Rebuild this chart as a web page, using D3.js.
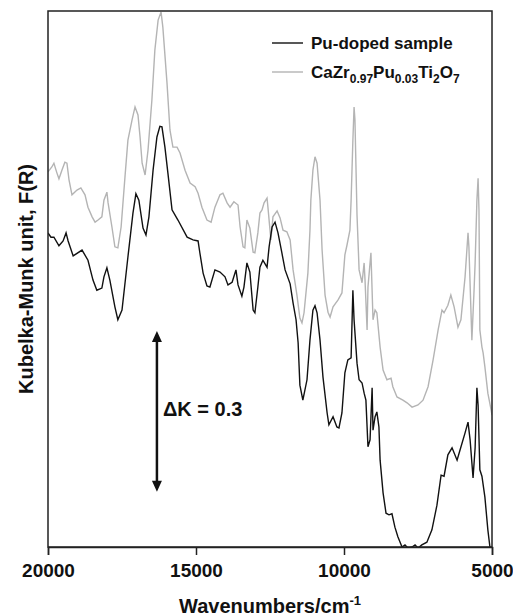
<!DOCTYPE html>
<html>
<head>
<meta charset="utf-8">
<script src="https://cdn.jsdelivr.net/npm/d3@7/dist/d3.min.js"></script>
<style>
  body { margin: 0; background: #fff; }
  text { font-family: "Liberation Sans", Arial, sans-serif; font-weight: bold; fill: #111; }
</style>
</head>
<body>
<script>
let width = 513;
let height = 616;
let margin = { top: 11, right: 21, bottom: 69, left: 48 };

// wavenumber (cm-1), Kubelka-Munk value (arbitrary offset)
const puDoped = [
  [20000,0.586],[19900,0.578],[19800,0.578],[19630,0.562],[19490,0.571],[19390,0.586],[19320,0.571],
  [19150,0.543],[18850,0.554],[18650,0.535],[18480,0.498],[18350,0.479],[18180,0.483],[18110,0.504],
  [18010,0.521],[17910,0.498],[17740,0.448],[17640,0.424],[17500,0.442],[17300,0.541],[17130,0.623],
  [17030,0.659],[16930,0.647],[16790,0.595],[16690,0.582],[16590,0.616],[16450,0.703],[16320,0.765],
  [16220,0.785],[16150,0.784],[16050,0.746],[15950,0.698],[15810,0.629],[15610,0.610],[15300,0.578],
  [15100,0.573],[14930,0.571],[14870,0.549],[14760,0.511],[14630,0.487],[14530,0.485],[14360,0.517],
  [14190,0.513],[14020,0.504],[13920,0.489],[13780,0.494],[13650,0.517],[13580,0.489],[13450,0.468],
  [13380,0.485],[13280,0.530],[13180,0.513],[13070,0.442],[13010,0.437],[12910,0.485],[12840,0.522],
  [12740,0.535],[12600,0.522],[12530,0.560],[12430,0.597],[12330,0.606],[12230,0.586],[12100,0.549],
  [11990,0.517],[11820,0.491],[11720,0.455],[11620,0.424],[11550,0.381],[11490,0.302],[11390,0.274],
  [11250,0.312],[11150,0.386],[11050,0.442],[10980,0.450],[10910,0.437],[10810,0.386],[10710,0.317],
  [10570,0.250],[10510,0.228],[10370,0.243],[10240,0.224],[10170,0.222],[10070,0.250],[9970,0.325],
  [9870,0.349],[9760,0.353],[9700,0.479],[9660,0.424],[9560,0.343],[9490,0.312],[9390,0.306],
  [9320,0.287],[9260,0.274],[9190,0.187],[9120,0.200],[9050,0.297],[9020,0.218],[8950,0.243],
  [8890,0.252],[8820,0.224],[8780,0.162],[8680,0.101],[8580,0.063],[8480,0.060],[8380,0.062],
  [8280,0.037],[8180,0.019],[8040,0.000],[7940,0.004],[7840,-0.002],[7700,0.000],[7600,0.004],
  [7500,-0.002],[7370,0.004],[7200,0.009],[7030,0.032],[6860,0.078],[6720,0.134],[6620,0.132],
  [6490,0.172],[6350,0.185],[6180,0.162],[6080,0.181],[5910,0.213],[5810,0.233],[5740,0.200],
  [5640,0.129],[5570,0.185],[5510,0.297],[5470,0.265],[5410,0.144],[5340,0.132],[5240,0.093],
  [5140,0.032],[5070,0.000],[5000,-0.015]
];

const caZrPuTi = [
  [20000,0.700],[19870,0.709],[19800,0.716],[19700,0.698],[19630,0.687],[19530,0.703],[19430,0.718],
  [19360,0.716],[19290,0.685],[19190,0.657],[19020,0.666],[18890,0.670],[18750,0.657],[18650,0.634],
  [18510,0.616],[18410,0.606],[18310,0.610],[18180,0.616],[18110,0.647],[18010,0.662],[17970,0.642],
  [17840,0.597],[17740,0.560],[17640,0.558],[17530,0.597],[17400,0.690],[17300,0.759],[17160,0.797],
  [17060,0.821],[16960,0.806],[16890,0.765],[16820,0.716],[16720,0.694],[16620,0.741],[16490,0.834],
  [16390,0.927],[16280,0.983],[16180,0.998],[16120,0.970],[15980,0.866],[15880,0.778],[15780,0.746],
  [15640,0.746],[15540,0.735],[15370,0.703],[15200,0.679],[15030,0.672],[14930,0.660],[14800,0.634],
  [14630,0.610],[14490,0.606],[14360,0.634],[14190,0.657],[14090,0.660],[13950,0.642],[13850,0.634],
  [13720,0.644],[13580,0.638],[13510,0.597],[13410,0.560],[13350,0.558],[13280,0.610],[13180,0.595],
  [13070,0.550],[13010,0.549],[12910,0.586],[12840,0.623],[12770,0.629],[12700,0.642],[12600,0.651],
  [12570,0.634],[12470,0.573],[12400,0.616],[12260,0.627],[12160,0.614],[12060,0.591],[11930,0.588],
  [11820,0.573],[11720,0.517],[11590,0.470],[11490,0.427],[11420,0.418],[11350,0.437],[11220,0.511],
  [11150,0.591],[11120,0.647],[11050,0.703],[10980,0.728],[10910,0.716],[10810,0.647],[10740,0.554],
  [10640,0.470],[10540,0.438],[10470,0.429],[10370,0.448],[10200,0.461],[10070,0.474],[9970,0.545],
  [9900,0.563],[9800,0.591],[9760,0.647],[9700,0.759],[9660,0.821],[9630,0.797],[9560,0.619],
  [9490,0.517],[9390,0.493],[9320,0.530],[9290,0.498],[9220,0.405],[9190,0.485],[9090,0.549],
  [9020,0.424],[8950,0.442],[8890,0.437],[8780,0.373],[8680,0.330],[8550,0.312],[8410,0.315],
  [8350,0.299],[8210,0.280],[8010,0.274],[7870,0.269],[7700,0.261],[7500,0.265],[7330,0.274],
  [7160,0.299],[6990,0.349],[6820,0.405],[6690,0.442],[6620,0.437],[6490,0.451],[6390,0.470],
  [6280,0.448],[6150,0.410],[6050,0.424],[5910,0.504],[5810,0.586],[5780,0.560],[5680,0.386],
  [5610,0.474],[5570,0.530],[5510,0.647],[5470,0.688],[5440,0.629],[5410,0.405],[5340,0.373],
  [5300,0.362],[5240,0.336],[5140,0.287],[5030,0.256],[5000,0.246]
];

const xTicks = [20000, 15000, 10000, 5000];
const seriesNames = ["Pu-doped sample", "CaZr0.97Pu0.03Ti2O7"];
const deltaK = { wavenumber: 16320, from: 0.103, size: 0.3, label: "\u0394K = 0.3" };

const svg = d3
  .select("body")
  .append("svg")
  .attr("width", width)
  .attr("height", height);

const xScale = d3
  .scaleLinear()
  .domain([20000, 5000])
  .range([margin.left, width - margin.right]);

const yScale = d3
  .scaleLinear()
  .domain([0, 1])
  .range([height - margin.bottom, margin.top]);

svg
  .append("clipPath")
  .attr("id", "plotClip")
  .append("rect")
  .attr("x", margin.left)
  .attr("y", margin.top)
  .attr("width", width - margin.left - margin.right)
  .attr("height", height - margin.top - margin.bottom);

const line = d3
  .line()
  .x((d) => xScale(d[0]))
  .y((d) => yScale(d[1]));

// grey reference first, black sample on top
svg
  .append("path")
  .datum(caZrPuTi)
  .attr("clip-path", "url(#plotClip)")
  .attr("fill", "none")
  .attr("stroke", "#b4b4b4")
  .attr("stroke-width", 1.4)
  .attr("d", line);

svg
  .append("path")
  .datum(puDoped)
  .attr("clip-path", "url(#plotClip)")
  .attr("fill", "none")
  .attr("stroke", "#111")
  .attr("stroke-width", 1.4)
  .attr("d", line);

// frame
svg
  .append("rect")
  .attr("x", margin.left)
  .attr("y", margin.top)
  .attr("width", width - margin.left - margin.right)
  .attr("height", height - margin.top - margin.bottom)
  .attr("fill", "none")
  .attr("stroke", "#222")
  .attr("stroke-width", 1.5);

const xAxis = d3
  .axisBottom(xScale)
  .tickValues(xTicks)
  .tickSize(8)
  .tickPadding(9)
  .tickFormat(d3.format("d"));

const gx = svg
  .append("g")
  .attr("transform", `translate(0,${height - margin.bottom})`)
  .call(xAxis);
gx.select(".domain").attr("stroke", "#222").attr("stroke-width", 1.5);
gx.selectAll(".tick line").attr("stroke", "#222").attr("stroke-width", 1.5);
gx.selectAll(".tick text")
  .attr("fill", "#111")
  .style("font-size", "19px")
  .style("font-family", "'Liberation Sans', Arial, sans-serif")
  .style("font-weight", "bold");

// axis titles
const xTitle = svg
  .append("text")
  .attr("text-anchor", "middle")
  .attr("x", (margin.left + width - margin.right) / 2)
  .attr("y", 613)
  .attr("font-size", 20);
xTitle.append("tspan").text("Wavenumbers/cm");
xTitle.append("tspan").attr("dy", -8).attr("font-size", 13).text("-1");

svg
  .append("text")
  .attr("text-anchor", "middle")
  .attr(
    "transform",
    `translate(33,${(margin.top + height - margin.bottom) / 2}) rotate(-90)`
  )
  .attr("font-size", 20)
  .text("Kubelka-Munk unit, F(R)");

// legend
const legendColors = ["#111", "#b4b4b4"];
const legend = svg
  .append("g")
  .selectAll("g")
  .data(seriesNames)
  .enter()
  .append("g")
  .attr("transform", (d, i) => `translate(272,${43 + i * 29})`);

legend
  .append("line")
  .attr("x1", 0)
  .attr("x2", 31)
  .attr("stroke", (d, i) => legendColors[i])
  .attr("stroke-width", 1.4);

legend.each(function (d, i) {
  const t = d3
    .select(this)
    .append("text")
    .attr("x", 39)
    .attr("y", 6)
    .attr("font-size", 17);
  if (i === 0) {
    t.text(d);
  } else {
    const parts = [["CaZr", 0], ["0.97", 1], ["Pu", 0], ["0.03", 1], ["Ti", 0], ["2", 1], ["O", 0], ["7", 1]];
    let prev = 0;
    parts.forEach(([s, sub]) => {
      t.append("tspan")
        .attr("dy", (sub - prev) * 5)
        .attr("font-size", sub ? 12 : 17)
        .text(s);
      prev = sub;
    });
  }
});

// delta K arrow
const ax = xScale(deltaK.wavenumber);
const yBot = yScale(deltaK.from);
const yTop = yScale(deltaK.from + deltaK.size);
svg
  .append("line")
  .attr("x1", ax)
  .attr("x2", ax)
  .attr("y1", yTop + 9)
  .attr("y2", yBot - 9)
  .attr("stroke", "#111")
  .attr("stroke-width", 2.5);

svg
  .append("path")
  .attr("fill", "#111")
  .attr("d", `M${ax},${yTop} l-5,11 l10,0 z M${ax},${yBot} l-5,-11 l10,0 z`);

svg
  .append("text")
  .attr("x", ax + 6)
  .attr("y", 416)
  .attr("font-size", 20)
  .text(deltaK.label);
</script>
</body>
</html>
